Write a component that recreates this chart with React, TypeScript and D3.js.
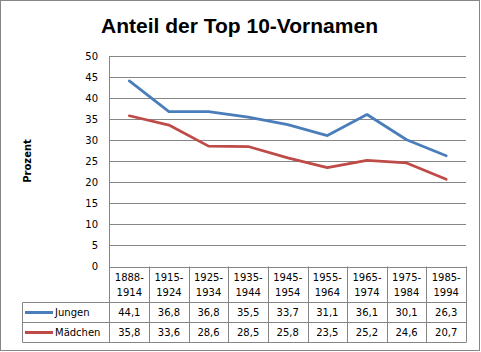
import React from "react";
import * as d3 from "d3";

const categories = ["1888-1914", "1915-1924", "1925-1934", "1935-1944", "1945-1954", "1955-1964", "1965-1974", "1975-1984", "1985-1994"];
const jungen = [44.1, 36.8, 36.8, 35.5, 33.7, 31.1, 36.1, 30.1, 26.3];
const maedchen = [35.8, 33.6, 28.6, 28.5, 25.8, 23.5, 25.2, 24.6, 20.7];
const yTicks = [0, 5, 10, 15, 20, 25, 30, 35, 40, 45, 50];
const seriesNames = ["Jungen", "Mädchen"];
const seriesColors = ["#4A7EBB", "#BE4B48"];

const W = 481, H = 352;
const plotL = 109.5, plotR = 466, plotT = 56, plotB = 266.5;
const tableTop = plotB, headerBottom = 302.5, rowH = 20, tableLeft = 22.5;
const GRID = "#868686";
const FONT = "'DejaVu Sans', Verdana, sans-serif";

export default function App() {
  const y = d3.scaleLinear().domain([0, 50]).range([plotB, plotT]);
  const x = d3.scaleBand().domain(categories).range([plotL, plotR]).paddingInner(0).paddingOuter(0);
  const cx = (c: string) => (x(c) as number) + x.bandwidth() / 2;
  const line = d3.line<number>().x((_, i) => cx(categories[i])).y((d) => y(d));
  const series = [jungen, maedchen];
  const fmt = (v: number) => v.toFixed(1).replace(".", ",");
  const tableBottom = headerBottom + rowH * series.length;

  return (
    <svg width={W} height={H} style={{ position: "absolute", left: 0, top: 0, display: "block" }} fontFamily={FONT}>
      <rect x={0} y={0} width={W} height={H} fill="#fff" />
      <rect x={0.5} y={0.5} width={479} height={350} fill="none" stroke={GRID} strokeWidth={1} />
      <text x={239.5} y={33} textAnchor="middle" fontFamily="'Liberation Sans', Arial, sans-serif" fontWeight="bold" fontSize={21} fill="#000">
        Anteil der Top 10-Vornamen
      </text>
      <text transform="translate(31,161) rotate(-90)" textAnchor="middle" fontWeight="bold" fontSize={10} fill="#000">
        Prozent
      </text>
      {yTicks.map((t) => (
        <g key={t}>
          <line x1={plotL} x2={plotR} y1={Math.round(y(t)) + 0.5} y2={Math.round(y(t)) + 0.5} stroke={GRID} strokeWidth={1} />
          <text x={98} y={y(t)} dy="0.36em" textAnchor="end" fontSize={10} fill="#000">{t}</text>
        </g>
      ))}
      <line x1={plotL} x2={plotL} y1={plotT} y2={tableBottom} stroke={GRID} />
      {/* table */}
      <line x1={tableLeft} x2={plotR} y1={headerBottom} y2={headerBottom} stroke={GRID} />
      {series.map((_, i) => (
        <line key={i} x1={tableLeft} x2={plotR} y1={headerBottom + rowH * (i + 1)} y2={headerBottom + rowH * (i + 1)} stroke={GRID} />
      ))}
      <line x1={tableLeft} x2={tableLeft} y1={headerBottom} y2={tableBottom} stroke={GRID} />
      {categories.map((c) => (
        <line key={c} x1={Math.round((x(c) as number) + x.bandwidth()) + 0.5} x2={Math.round((x(c) as number) + x.bandwidth()) + 0.5} y1={tableTop} y2={tableBottom} stroke={GRID} />
      ))}
      {categories.map((c) => {
        const [a, b] = c.split("-");
        return (
          <g key={c}>
            <text x={cx(c)} y={281} textAnchor="middle" fontSize={10} fill="#000">{a + "-"}</text>
            <text x={cx(c)} y={296} textAnchor="middle" fontSize={10} fill="#000">{b}</text>
          </g>
        );
      })}
      {series.map((s, i) => {
        const ry = headerBottom + rowH * i + rowH / 2;
        return (
          <g key={i}>
            <line x1={25} x2={53} y1={ry} y2={ry} stroke={seriesColors[i]} strokeWidth={3} />
            <text x={55} y={ry} dy="0.36em" fontSize={10} fill="#000">{seriesNames[i]}</text>
            {s.map((v, j) => (
              <text key={j} x={cx(categories[j])} y={ry} dy="0.36em" textAnchor="middle" fontSize={10} fill="#000">{fmt(v)}</text>
            ))}
          </g>
        );
      })}
      {series.map((s, i) => (
        <path key={i} d={line(s) as string} fill="none" stroke={seriesColors[i]} strokeWidth={2.75} strokeLinejoin="round" strokeLinecap="round" />
      ))}
    </svg>
  );
}
